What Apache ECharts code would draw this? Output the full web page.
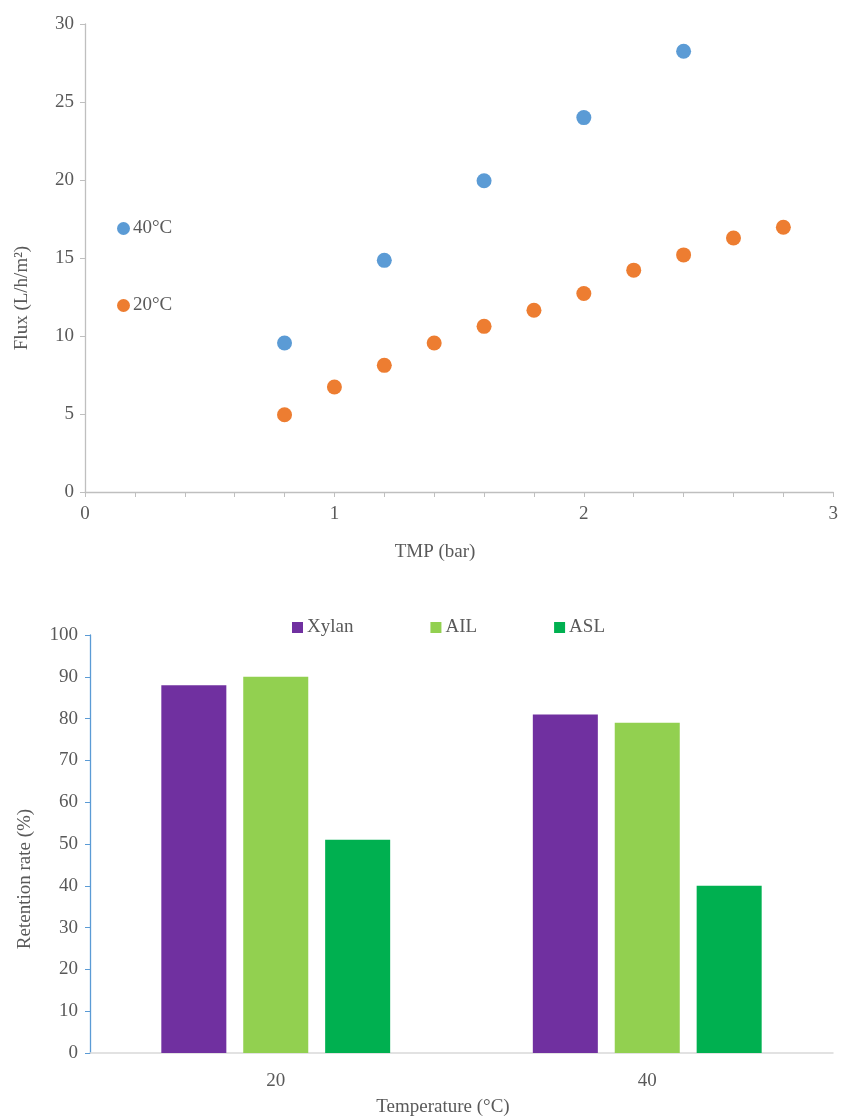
<!DOCTYPE html>
<html>
<head>
<meta charset="utf-8">
<script src="https://cdn.jsdelivr.net/npm/echarts@6/dist/echarts.min.js"></script>
<style>html,body{margin:0;padding:0;background:#fff}#c{width:841px;height:1118px}</style>
</head>
<body>
<div id="c"></div>
<script>
// Top chart: flux vs TMP
const tmp40 = [0.8, 1.2, 1.6, 2.0, 2.4];
const flux40 = [9.55, 14.85, 19.95, 24.0, 28.25];
const tmp20 = [0.8, 1.0, 1.2, 1.4, 1.6, 1.8, 2.0, 2.2, 2.4, 2.6, 2.8];
const flux20 = [4.95, 6.73, 8.12, 9.55, 10.62, 11.65, 12.72, 14.22, 15.2, 16.28, 16.97];
const xTickLabels = ['0', '1', '2', '3'];
// Bottom chart: retention
const temps = ['20', '40'];
const xylanVals = [88, 81];
const ailVals = [90, 79];
const aslVals = [51, 40];

const font = 'Liberation Serif, Times New Roman, serif';
const txt = '#595959';
const gray = '#bfbfbf';
const fs = 19;

const chart = echarts.init(document.getElementById('c'));
chart.setOption({
  animation: false,
  backgroundColor: '#fff',
  textStyle: { fontFamily: font, color: txt },
  legend: [
    {
      data: ['40°C', '20°C'], orient: 'vertical', left: 117, top: 219,
      icon: 'circle', itemWidth: 13, itemHeight: 13, itemGap: 58, padding: 0,
      textStyle: { fontFamily: font, fontSize: fs, color: txt, padding: [0, 0, 0, -2] }
    },
    {
      data: ['Xylan', 'AIL', 'ASL'], orient: 'horizontal', left: 292, top: 618,
      icon: 'rect', itemWidth: 11, itemHeight: 11, itemGap: 77, padding: 0,
      textStyle: { fontFamily: font, fontSize: fs, color: txt, padding: [0, 0, 0, -1] }
    }
  ],
  grid: [
    { left: 85, right: 5, top: 24, height: 468 },
    { left: 90, right: 8, top: 635, height: 418 }
  ],
  xAxis: [
    {
      gridIndex: 0, type: 'value', min: 0, max: 3, interval: 0.2,
      axisLine: { show: true, lineStyle: { color: gray, width: 1.3 } },
      axisTick: { show: true, length: 5, lineStyle: { color: gray } },
      splitLine: { show: false },
      axisLabel: {
        fontFamily: font, fontSize: fs, color: txt, margin: 13,
        formatter: v => {
          const r = Math.round(v);
          return Math.abs(v - r) < 1e-6 ? xTickLabels[r] : '';
        }
      }
    },
    {
      gridIndex: 1, type: 'category', data: temps,
      axisLine: { show: true, lineStyle: { color: '#d9d9d9', width: 1.5 } },
      axisTick: { show: false },
      axisLabel: { fontFamily: font, fontSize: fs, color: txt, margin: 19 }
    }
  ],
  yAxis: [
    {
      gridIndex: 0, type: 'value', min: 0, max: 30, interval: 5,
      axisLine: { show: true, lineStyle: { color: gray, width: 1.3 } },
      axisTick: { show: true, length: 5, lineStyle: { color: gray } },
      splitLine: { show: false },
      axisLabel: { fontFamily: font, fontSize: fs, color: txt, margin: 11 }
    },
    {
      gridIndex: 1, type: 'value', min: 0, max: 100, interval: 10,
      axisLine: { show: true, lineStyle: { color: '#5b9bd5', width: 1.3 } },
      axisTick: { show: true, length: 5, lineStyle: { color: '#5b9bd5' } },
      splitLine: { show: false },
      axisLabel: { fontFamily: font, fontSize: fs, color: txt, margin: 12 }
    }
  ],
  series: [
    {
      name: '40°C', type: 'scatter', xAxisIndex: 0, yAxisIndex: 0, symbolSize: 15,
      itemStyle: { color: '#5b9bd5', opacity: 1 },
      data: tmp40.map((x, i) => [x, flux40[i]])
    },
    {
      name: '20°C', type: 'scatter', xAxisIndex: 0, yAxisIndex: 0, symbolSize: 15,
      itemStyle: { color: '#ed7d31', opacity: 1 },
      data: tmp20.map((x, i) => [x, flux20[i]])
    },
    {
      name: 'Xylan', type: 'bar', xAxisIndex: 1, yAxisIndex: 1, data: xylanVals,
      barWidth: '17.5%', barGap: '26%', itemStyle: { color: '#7030a0' }
    },
    {
      name: 'AIL', type: 'bar', xAxisIndex: 1, yAxisIndex: 1, data: ailVals,
      barWidth: '17.5%', barGap: '26%', itemStyle: { color: '#92d050' }
    },
    {
      name: 'ASL', type: 'bar', xAxisIndex: 1, yAxisIndex: 1, data: aslVals,
      barWidth: '17.5%', barGap: '26%', itemStyle: { color: '#00b050' }
    }
  ],
  graphic: [
    { type: 'text', x: 435, y: 552, style: { text: 'TMP (bar)', fontFamily: font, fontSize: fs, fill: txt, align: 'center', verticalAlign: 'middle' } },
    { type: 'text', x: 22, y: 298, rotation: Math.PI / 2, style: { text: 'Flux (L/h/m²)', fontFamily: font, fontSize: fs, fill: txt, align: 'center', verticalAlign: 'middle' } },
    { type: 'text', x: 443, y: 1107, style: { text: 'Temperature (°C)', fontFamily: font, fontSize: fs, fill: txt, align: 'center', verticalAlign: 'middle' } },
    { type: 'text', x: 25, y: 879, rotation: Math.PI / 2, style: { text: 'Retention rate (%)', fontFamily: font, fontSize: fs, fill: txt, align: 'center', verticalAlign: 'middle' } }
  ]
});
</script>
</body>
</html>
